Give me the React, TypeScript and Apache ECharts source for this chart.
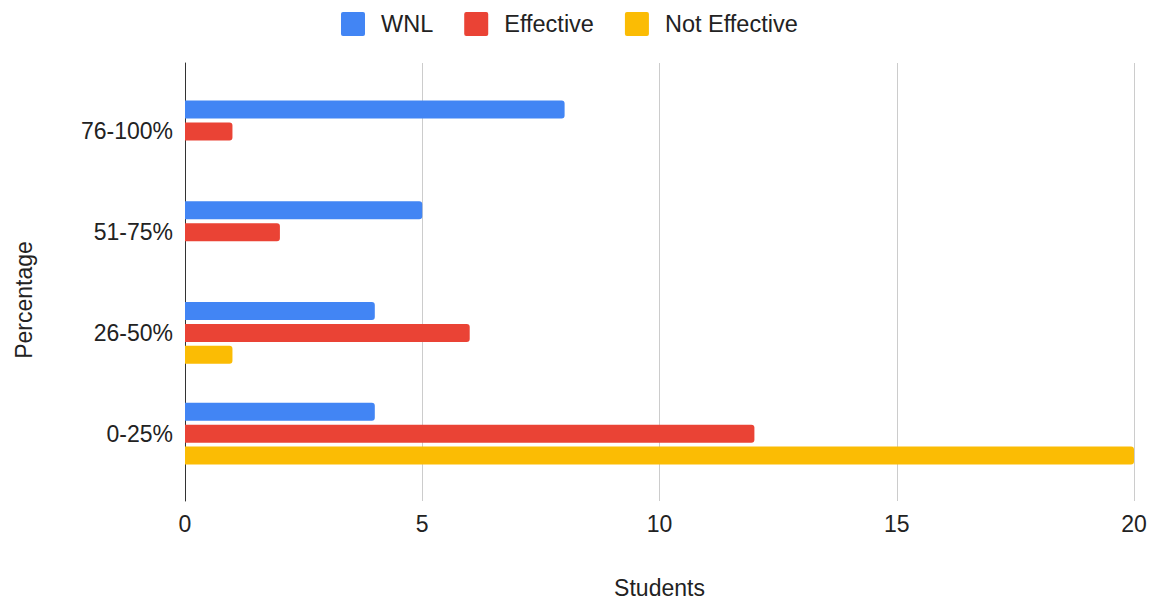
import React, { useEffect, useRef } from "react";
import * as echarts from "echarts";

const categories = ["0-25%", "26-50%", "51-75%", "76-100%"];
const wnl = [4, 4, 5, 8];
const effective = [12, 6, 2, 1];
const notEffective = [20, 1, 0, 0];
const xTicks = { min: 0, max: 20, interval: 5 };

const FONT = "'Liberation Sans', Arial, sans-serif";
const TXT = "#222";
const ICON = "path://M2,0h20a2,2 0 0 1 2,2v20a2,2 0 0 1 -2,2h-20a2,2 0 0 1 -2,-2v-20a2,2 0 0 1 2,-2z";

export default function App() {
  const ref = useRef<HTMLDivElement>(null);
  useEffect(() => {
    if (!ref.current) return;
    const chart = echarts.init(ref.current, undefined, { renderer: "svg" });
    const barCommon = {
      type: "bar",
      xAxisIndex: 0,
      yAxisIndex: 0,
      barWidth: 18,
      barGap: "22%",
      itemStyle: { borderRadius: [0, 3, 3, 0] },
    };
    chart.setOption({
      animation: false,
      textStyle: { fontFamily: FONT },
      legend: {
        top: 12,
        left: 341,
        padding: 0,
        itemWidth: 24,
        itemHeight: 24,
        itemGap: 31,
        icon: ICON,
        textStyle: { fontSize: 23.5, color: TXT, fontFamily: FONT, padding: [0, 0, 0, 11] },
        data: ["WNL", "Effective", "Not Effective"],
      },
      grid: [
        { left: 185, right: 19, top: 81, bottom: 120 },
        { left: 185, right: 19, top: 63, bottom: 102 },
      ],
      xAxis: [
        {
          type: "value",
          gridIndex: 0,
          min: xTicks.min,
          max: xTicks.max,
          interval: xTicks.interval,
          show: false,
        },
        {
          type: "value",
          gridIndex: 1,
          min: xTicks.min,
          max: xTicks.max,
          interval: xTicks.interval,
          axisLine: { show: false },
          axisTick: { show: false },
          splitLine: { show: true, lineStyle: { color: "#cccccc", width: 1 } },
          axisLabel: { fontSize: 23, color: TXT, fontFamily: FONT, margin: 11 },
          name: "Students",
          nameLocation: "middle",
          nameGap: 75,
          nameTextStyle: { fontSize: 23, color: TXT, fontFamily: FONT },
        },
      ],
      yAxis: [
        {
          type: "category",
          gridIndex: 0,
          data: categories,
          axisLine: { show: false },
          axisTick: { show: false },
          axisLabel: { fontSize: 23, color: TXT, fontFamily: FONT, margin: 12 },
        },
        {
          type: "value",
          gridIndex: 1,
          min: 0,
          max: 1,
          axisLine: { show: true, onZero: false, lineStyle: { color: "#333333", width: 1 } },
          axisTick: { show: false },
          axisLabel: { show: false },
          splitLine: { show: false },
        },
      ],
      graphic: [
        {
          type: "text",
          x: 24,
          y: 300,
          rotation: Math.PI / 2,
          style: {
            text: "Percentage",
            fontSize: 23,
            fill: TXT,
            fontFamily: FONT,
            align: "center",
            verticalAlign: "middle",
          },
        },
      ],
      series: [
        { ...barCommon, name: "WNL", data: wnl, itemStyle: { ...barCommon.itemStyle, color: "#4285F4" } },
        { ...barCommon, name: "Effective", data: effective, itemStyle: { ...barCommon.itemStyle, color: "#EA4335" } },
        { ...barCommon, name: "Not Effective", data: notEffective, itemStyle: { ...barCommon.itemStyle, color: "#FBBC04" } },
      ],
    });
    return () => chart.dispose();
  }, []);
  return <div ref={ref} style={{ width: 1153, height: 604, position: "absolute", left: 0, top: 0 }} />;
}
